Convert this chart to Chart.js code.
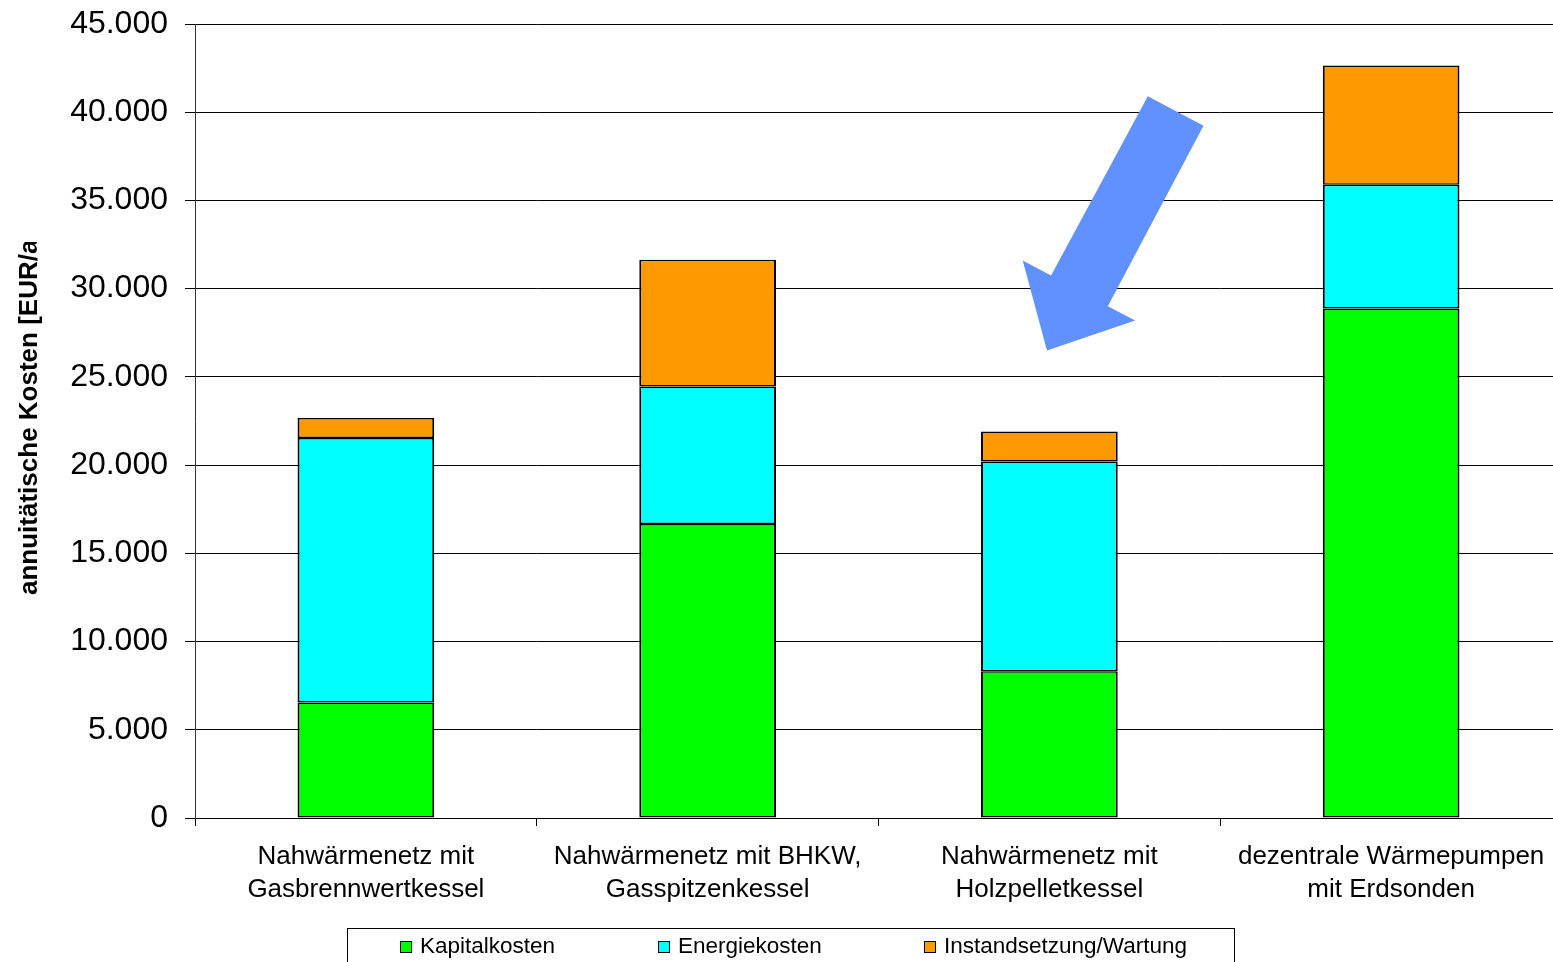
<!DOCTYPE html>
<html>
<head>
<meta charset="utf-8">
<script src="https://cdn.jsdelivr.net/npm/chart.js@4/dist/chart.umd.min.js"></script>
<style>
  html, body { margin: 0; padding: 0; background: #fff; overflow: hidden; }
  #wrap { width: 1553px; height: 962px; position: relative; overflow: hidden; }
  #c { display: block; }
</style>
</head>
<body>
<div id="wrap"><canvas id="c" width="1562" height="962"></canvas></div>
<script>
// Annual costs per heating variant, EUR per year
const categories = [
  ['Nahwärmenetz mit', 'Gasbrennwertkessel'],
  ['Nahwärmenetz mit BHKW,', 'Gasspitzenkessel'],
  ['Nahwärmenetz mit', 'Holzpelletkessel'],
  ['dezentrale Wärmepumpen', 'mit Erdsonden']
];
const seriesNames = ['Kapitalkosten', 'Energiekosten', 'Instandsetzung/Wartung'];
const kapitalkosten = [6550, 16660, 8310, 28870];
const energiekosten = [14990, 7800, 11900, 7020];
const instandsetzung = [1130, 7180, 1700, 6760];
const yTickValues = [0, 5000, 10000, 15000, 20000, 25000, 30000, 35000, 40000, 45000];
const axisTitle = 'annuitätische Kosten [EUR/a]';

const FONT = "'Liberation Sans', Arial, Helvetica, sans-serif";
const colors = ['#00ff00', '#00ffff', '#ff9900'];

function formatDE(v) {
  return String(Math.round(v)).replace(/\B(?=(\d{3})+(?!\d))/g, '.');
}

// Rotated axis title on the left, cut off at its upper end
const axisTitlePlugin = {
  id: 'axisTitle',
  afterDraw(chart) {
    const ctx = chart.ctx;
    ctx.save();
    ctx.beginPath();
    ctx.rect(0, 242, 120, 700);
    ctx.clip();
    ctx.translate(37, 595);
    ctx.rotate(-Math.PI / 2);
    ctx.font = 'bold 26px ' + FONT;
    ctx.fillStyle = '#000';
    ctx.textAlign = 'left';
    ctx.textBaseline = 'alphabetic';
    ctx.fillText(axisTitle, 0, 0);
    ctx.restore();
  }
};

// Blue pointer arrow towards the wood pellet variant (category index / EUR coordinates)
const arrowPlugin = {
  id: 'pointerArrow',
  afterDatasetsDraw(chart) {
    const xs = chart.scales.x, ys = chart.scales.y;
    const pts = [
      [2.288, 40900], [2.451, 39240], [2.171, 29000], [2.251, 28190],
      [1.993, 26500], [1.922, 31590], [2.005, 30740]
    ];
    const ctx = chart.ctx;
    ctx.save();
    ctx.beginPath();
    pts.forEach((p, i) => {
      const px = xs.getPixelForValue(p[0]);
      const py = ys.getPixelForValue(p[1]);
      if (i === 0) ctx.moveTo(px, py); else ctx.lineTo(px, py);
    });
    ctx.closePath();
    ctx.fillStyle = '#6091ff';
    ctx.fill();
    ctx.restore();
  }
};

// Boxed legend below the category labels
const boxLegendPlugin = {
  id: 'boxLegend',
  afterDraw(chart) {
    const ctx = chart.ctx;
    const slots = [400, 658, 924];
    ctx.save();
    ctx.strokeStyle = '#000';
    ctx.lineWidth = 1;
    ctx.strokeRect(347.5, 928.5, 887, 60);
    ctx.font = '22.5px ' + FONT;
    ctx.textBaseline = 'alphabetic';
    ctx.textAlign = 'left';
    chart.data.datasets.forEach((ds, i) => {
      const x = slots[i];
      ctx.fillStyle = ds.backgroundColor;
      ctx.fillRect(x + 0.5, 941.5, 11, 11);
      ctx.strokeStyle = '#000';
      ctx.strokeRect(x + 0.5, 941.5, 11, 11);
      ctx.fillStyle = '#000';
      ctx.fillText(ds.label, x + 20, 953);
    });
    ctx.restore();
  }
};

const datasets = [kapitalkosten, energiekosten, instandsetzung].map((vals, i) => ({
  label: seriesNames[i],
  data: vals,
  backgroundColor: colors[i],
  borderColor: '#000',
  borderWidth: { left: 2, right: 2, top: 1.5, bottom: 1.5 },
  borderSkipped: false,
  barPercentage: 0.4,
  categoryPercentage: 1.0
}));

new Chart(document.getElementById('c'), {
  type: 'bar',
  data: { labels: categories, datasets },
  plugins: [arrowPlugin, axisTitlePlugin, boxLegendPlugin],
  options: {
    responsive: false,
    animation: false,
    devicePixelRatio: 1,
    layout: { padding: { top: 24, right: 0, left: 0, bottom: 0 } },
    plugins: { legend: { display: false }, tooltip: { enabled: false }, title: { display: false } },
    scales: {
      x: {
        stacked: true,
        offset: true,
        grid: { drawOnChartArea: false, drawTicks: true, tickLength: 8, color: '#000', offset: true },
        border: { display: true, color: '#000', width: 1 },
        ticks: {
          color: '#000',
          font: { family: FONT, size: 26, lineHeight: 1.27 },
          padding: 14,
          maxRotation: 0,
          minRotation: 0,
          autoSkip: false
        },
        afterFit(scale) {
          scale.height = 144;
          scale.paddingLeft = 0;
          scale.paddingRight = 0;
        }
      },
      y: {
        stacked: true,
        min: 0,
        max: 45000,
        afterBuildTicks(scale) { scale.ticks = yTickValues.map(v => ({ value: v })); },
        grid: { color: '#000', lineWidth: 1, drawTicks: true, tickLength: 10 },
        border: { display: true, color: '#333', width: 1 },
        ticks: {
          color: '#000',
          font: { family: FONT, size: 32 },
          padding: 17,
          callback: (v) => formatDE(v)
        },
        afterFit(scale) {
          scale.width = 195;
          scale.paddingTop = 0;
          scale.paddingBottom = 0;
        }
      }
    }
  }
});
</script>
</body>
</html>
